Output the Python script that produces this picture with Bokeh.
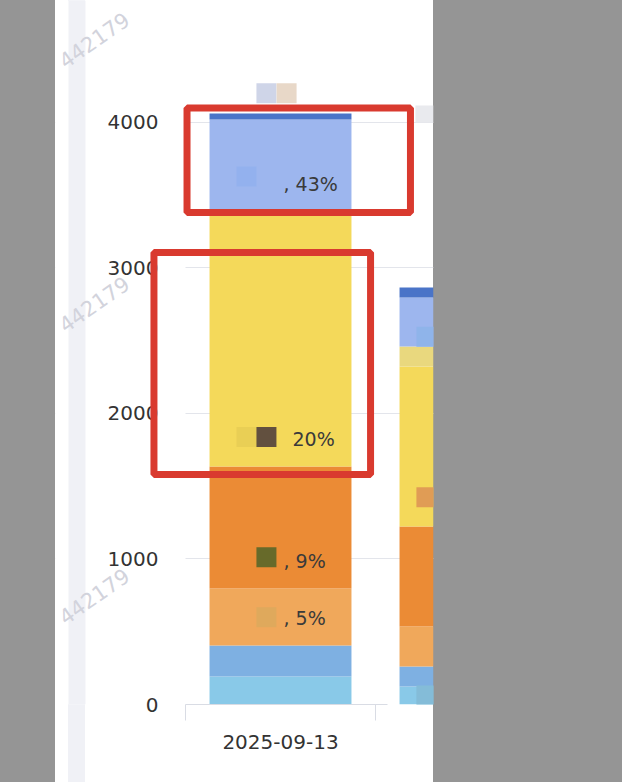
from bokeh.plotting import figure
from bokeh.models import ColumnDataSource, Range1d, FixedTicker, BoxAnnotation, Label
from bokeh.embed import file_html
from bokeh.resources import INLINE
from bokeh.core.properties import value

# ---- data ----
dates = ["2025-09-13", "2025-09-14"]
series = ["s1", "s2", "s3", "s4", "s5", "s6", "s7", "s8"]
s1 = [192, 124]
s2 = [213, 137]
s3 = [392, 275]
s4 = [839, 687]
s5 = [1759, 1100]
s6 = [0, 137]
s7 = [626, 337]
s8 = [41, 69]
colors = ["#89c9e8", "#7eb0e2", "#f0a85b", "#eb8b35", "#f4d95a", "#e9d87e", "#9db6ee", "#4a74c8"]
y_ticks = [0, 1000, 2000, 3000, 4000]
pct_labels = [", 43%", "20%", ", 9%", ", 5%"]
watermark = "442179"

FONT = "DejaVu Sans"

xs = [i + 0.5 for i in range(len(dates))]
src = ColumnDataSource(dict(x=xs, s1=s1, s2=s2, s3=s3, s4=s4, s5=s5, s6=s6, s7=s7, s8=s8))

X0, X1 = -0.68421, 1.30526
Y1 = 4838
p = figure(width=606, height=766, output_backend="svg", toolbar_location=None,
           x_range=Range1d(X0, X1), y_range=Range1d(0, Y1),
           min_border_left=55, min_border_right=173, min_border_top=0, min_border_bottom=62)
p.background_fill_color = None
p.border_fill_color = None
p.outline_line_color = None

# white panel left of the first category (hides grid there), with the light strip
p.add_layout(BoxAnnotation(left=X0, right=0, bottom=0, top=Y1, fill_color="#ffffff",
                           fill_alpha=1, line_color=None, level="underlay"))
p.add_layout(BoxAnnotation(left=-0.61579, right=-0.52632, bottom=0, top=Y1, fill_color="#f0f1f6",
                           fill_alpha=1, line_color=None, level="underlay"))

p.vbar_stack(series, x="x", width=0.747, color=colors, line_color=None, source=src)

# axes
yax = p.yaxis[0]
yax.ticker = FixedTicker(ticks=y_ticks)
yax.axis_line_color = None
yax.major_tick_line_color = None
yax.minor_tick_line_color = None
yax.major_tick_out = 0
yax.major_tick_in = 0
yax.major_label_standoff = -103
yax.major_label_text_font = FONT
yax.major_label_text_font_size = "20px"
yax.major_label_text_color = "#333333"

xax = p.xaxis[0]
xax.ticker = FixedTicker(ticks=xs, minor_ticks=[0, 1])
xax.bounds = (0, 1.063)
xax.axis_line_color = "#d9dce4"
xax.major_tick_line_color = None
xax.major_tick_out = 0
xax.major_tick_in = 0
xax.minor_tick_line_color = "#d9dce4"
xax.minor_tick_out = 16
xax.minor_tick_in = 0
xax.major_label_overrides = {xs[i]: dates[i] for i in range(len(dates))}
xax.major_label_standoff = 14
xax.major_label_text_font = FONT
xax.major_label_text_font_size = "20px"
xax.major_label_text_color = "#333333"

p.xgrid.grid_line_color = None
p.ygrid.ticker = FixedTicker(ticks=y_ticks)
p.ygrid.grid_line_color = "#e3e5eb"

# watermarks
p.text(x=[-0.679, -0.679, -0.679], y=[4454, 2639, 632], text=[watermark] * 3,
       angle=35, angle_units="deg", text_font=value(FONT), text_font_size="21px",
       text_baseline="top", text_color="#d2d3dc")

# label decoration squares
sq_x = [0.321, 0.321, 0.426, 0.426, 0.426, 0.426, 0.532, 1.268, 1.268, 1.268]
sq_y = [3628, 1838, 1838, 1012, 599, 4200, 4200, 2527, 1425, 62]
sq_c = ["#93b1ee", "#e9cf55", "#62503f", "#676a2a", "#dfa95c", "#cfd5e8", "#e8d8c8", "#8fb4ea", "#e09c55", "#84bcd8"]
p.scatter(sq_x, sq_y, marker="square", size=20, color=sq_c, line_color=None)

# percentage labels
lab_pos = [(0.516, 3580), (0.563, 1824), (0.516, 985), (0.516, 592)]
for t, (lx, ly) in zip(pct_labels, lab_pos):
    p.add_layout(Label(x=lx, y=ly, text=t, text_font=FONT, text_font_size="19px",
                       text_color="#3a3a3a", text_baseline="middle"))

# small gray box top-right
p.add_layout(BoxAnnotation(left=1.21, right=X1, bottom=4000, top=4117,
                           fill_color="#e9eaee", fill_alpha=1, line_color=None))

# red highlight rectangles
p.add_layout(BoxAnnotation(left=0.008, right=1.184, bottom=3381, top=4100,
                           fill_color=None, fill_alpha=0, line_color="#d93a2f",
                           line_alpha=1, line_width=7))
p.add_layout(BoxAnnotation(left=-0.166, right=0.974, bottom=1581, top=3107,
                           fill_color=None, fill_alpha=0, line_color="#d93a2f",
                           line_alpha=1, line_width=7))

html = file_html(p, INLINE)
css = ("<style>html,body{background:linear-gradient(to right,#959595 0,#959595 55px,#ffffff 55px,"
       "#ffffff 68px,#f0f1f6 68px,#f0f1f6 85px,#ffffff 85px,#ffffff 433px,#959595 433px) no-repeat;"
       "background-color:#959595;min-height:100%;}</style>")
html = html.replace("<head>", "<head>" + css, 1)
open("out.html", "w").write(html)
